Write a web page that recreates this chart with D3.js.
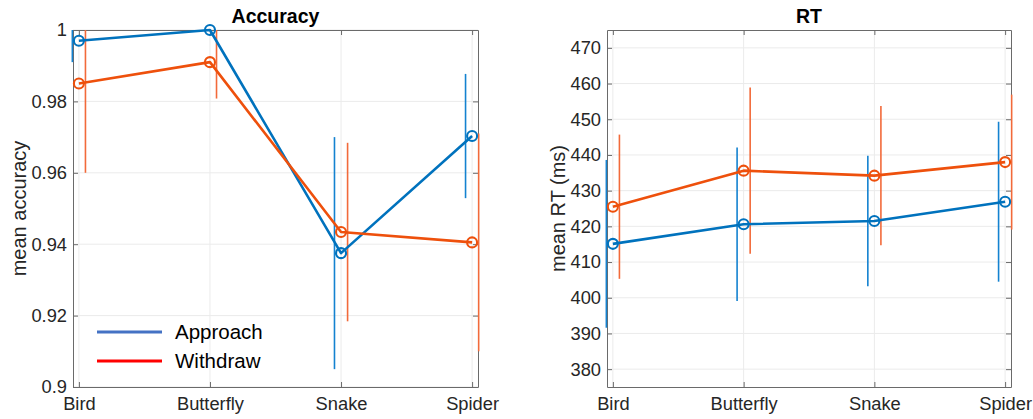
<!DOCTYPE html>
<html>
<head>
<meta charset="utf-8">
<script src="https://cdn.jsdelivr.net/npm/d3@7"></script>
<style>
body { margin: 0; background: #fff; }
svg { font-family: "Liberation Sans", Arial, sans-serif; }
.tick text { fill: #262626; }
</style>
</head>
<body>
<div class="chart"></div>
<script>
const categories = ["Bird", "Butterfly", "Snake", "Spider"];

// accuracy panel
const accApproach = [0.997, 1.000, 0.9375, 0.9703];
const accApproachErr = [0.006, 0.000, 0.0325, 0.0174];
const accWithdraw = [0.985, 0.991, 0.9434, 0.9405];
const accWithdrawErr = [0.025, 0.0102, 0.025, 0.0305];
const accTicks = [0.9, 0.92, 0.94, 0.96, 0.98, 1];

// RT panel
const rtApproach = [415.1, 420.6, 421.5, 426.9];
const rtApproachErr = [23.5, 21.5, 18.3, 22.4];
const rtWithdraw = [425.5, 435.6, 434.2, 438.0];
const rtWithdrawErr = [20.2, 23.3, 19.5, 18.9];
const rtTicks = [380, 390, 400, 410, 420, 430, 440, 450, 460, 470];

const seriesNames = ["Approach", "Withdraw"];
const lineColors = ["#0072BD", "#EE500C"];
const barColors = ["#1482D0", "#F26A3A"];
const legendColors = ["#4472C4", "#FF0000"];

const width = 1033, height = 419;
const plotTop = 30, plotBottom = 387;

const svg = d3.select("div.chart").append("svg")
	.attr("width", width)
	.attr("height", height);

drawPanel({
	left: 73, right: 478, id: "acc", labelX: 26,
	yDomain: [0.9, 1], ticks: accTicks, fmt: d => String(d),
	title: "Accuracy", ylabel: "mean accuracy",
	series: [[accApproach, accApproachErr], [accWithdraw, accWithdrawErr]],
	legend: true
});

drawPanel({
	left: 607, right: 1011, id: "rt", labelX: 565,
	yDomain: [375, 475], ticks: rtTicks, fmt: d => String(d),
	title: "RT", ylabel: "mean RT (ms)",
	series: [[rtApproach, rtApproachErr], [rtWithdraw, rtWithdrawErr]],
	legend: false
});

function drawPanel(opt) {
	let x = d3.scaleLinear().domain([0.955, 4.045]).range([opt.left, opt.right]);
	let y = d3.scaleLinear().domain(opt.yDomain).range([plotBottom, plotTop]);
	let xVals = categories.map((c, i) => i + 1);

	let g = svg.append("g");

	// grid
	g.append("g").selectAll("line").data(opt.ticks).join("line")
		.attr("x1", opt.left).attr("x2", opt.right)
		.attr("y1", d => y(d)).attr("y2", d => y(d))
		.attr("stroke", "#ebebeb").attr("stroke-width", 1);
	g.append("g").selectAll("line").data(xVals).join("line")
		.attr("x1", d => x(d)).attr("x2", d => x(d))
		.attr("y1", plotTop).attr("y2", plotBottom)
		.attr("stroke", "#ebebeb").attr("stroke-width", 1);

	// axes (ticks inward, mirrored on top/right)
	let xAxis = d3.axisBottom(x).tickValues(xVals).tickFormat((d, i) => categories[i])
		.tickSizeInner(-5).tickSizeOuter(0).tickPadding(10);
	let yAxis = d3.axisLeft(y).tickValues(opt.ticks).tickFormat(opt.fmt)
		.tickSizeInner(-5).tickSizeOuter(0).tickPadding(6);

	let gx = g.append("g").attr("transform", `translate(0,${plotBottom})`).call(xAxis);
	let gy = g.append("g").attr("transform", `translate(${opt.left},0)`).call(yAxis);
	let gxTop = g.append("g").attr("transform", `translate(0,${plotTop})`)
		.call(d3.axisTop(x).tickValues(xVals).tickFormat("").tickSizeInner(-5).tickSizeOuter(0));
	let gyRight = g.append("g").attr("transform", `translate(${opt.right},0)`)
		.call(d3.axisRight(y).tickValues(opt.ticks).tickFormat("").tickSizeInner(-5).tickSizeOuter(0));

	[gx, gy, gxTop, gyRight].forEach(a => {
		a.select(".domain").attr("stroke", "#6a6a6a").attr("stroke-width", 1);
		a.selectAll(".tick line").attr("stroke", "#6a6a6a");
	});
	gx.selectAll("text").attr("font-size", 18.3);
	gy.selectAll("text").attr("font-size", 18.3);

	// clip
	let clipId = "clip-" + opt.id;
	svg.append("clipPath").attr("id", clipId)
	  .append("rect")
		.attr("x", opt.left - 3).attr("y", plotTop)
		.attr("width", opt.right - opt.left + 6).attr("height", plotBottom - plotTop);

	let plot = g.append("g").attr("clip-path", `url(#${clipId})`);

	// error bars (offset left/right of category)
	opt.series.forEach(([vals, errs], s) => {
		let off = s === 0 ? -0.05 : 0.05;
		plot.append("g").selectAll("line").data(vals).join("line")
			.attr("x1", (d, i) => x(i + 1 + off)).attr("x2", (d, i) => x(i + 1 + off))
			.attr("y1", (d, i) => y(d - errs[i])).attr("y2", (d, i) => y(d + errs[i]))
			.attr("stroke", barColors[s]).attr("stroke-width", 1.6);
	});

	// lines and markers
	let line = d3.line().x((d, i) => x(i + 1)).y(d => y(d));
	opt.series.forEach(([vals], s) => {
		g.append("path").datum(vals)
			.attr("d", line)
			.attr("fill", "none")
			.attr("stroke", lineColors[s])
			.attr("stroke-width", 2.6)
			.attr("stroke-linejoin", "round");
		g.append("g").selectAll("circle").data(vals).join("circle")
			.attr("cx", (d, i) => x(i + 1)).attr("cy", d => y(d))
			.attr("r", 5)
			.attr("fill", "none")
			.attr("stroke", lineColors[s])
			.attr("stroke-width", 2.1);
	});

	// title
	svg.append("text")
		.attr("x", (opt.left + opt.right) / 2).attr("y", 23)
		.attr("text-anchor", "middle")
		.attr("font-size", 19.5).attr("font-weight", "bold")
		.attr("fill", "#000")
		.text(opt.title);

	// y label
	svg.append("text")
		.attr("transform", `translate(${opt.labelX},${(plotTop + plotBottom) / 2}) rotate(-90)`)
		.attr("text-anchor", "middle")
		.attr("font-size", 20)
		.attr("fill", "#262626")
		.text(opt.ylabel);

	if (opt.legend) {
		let lg = svg.append("g");
		seriesNames.forEach((name, s) => {
			let ly = 332 + s * 29;
			lg.append("line")
				.attr("x1", 97).attr("x2", 162).attr("y1", ly).attr("y2", ly)
				.attr("stroke", legendColors[s]).attr("stroke-width", 3);
			lg.append("text")
				.attr("x", 175).attr("y", ly + 7)
				.attr("font-size", 20.5).attr("fill", "#000")
				.text(name);
		});
	}
}
</script>
</body>
</html>
